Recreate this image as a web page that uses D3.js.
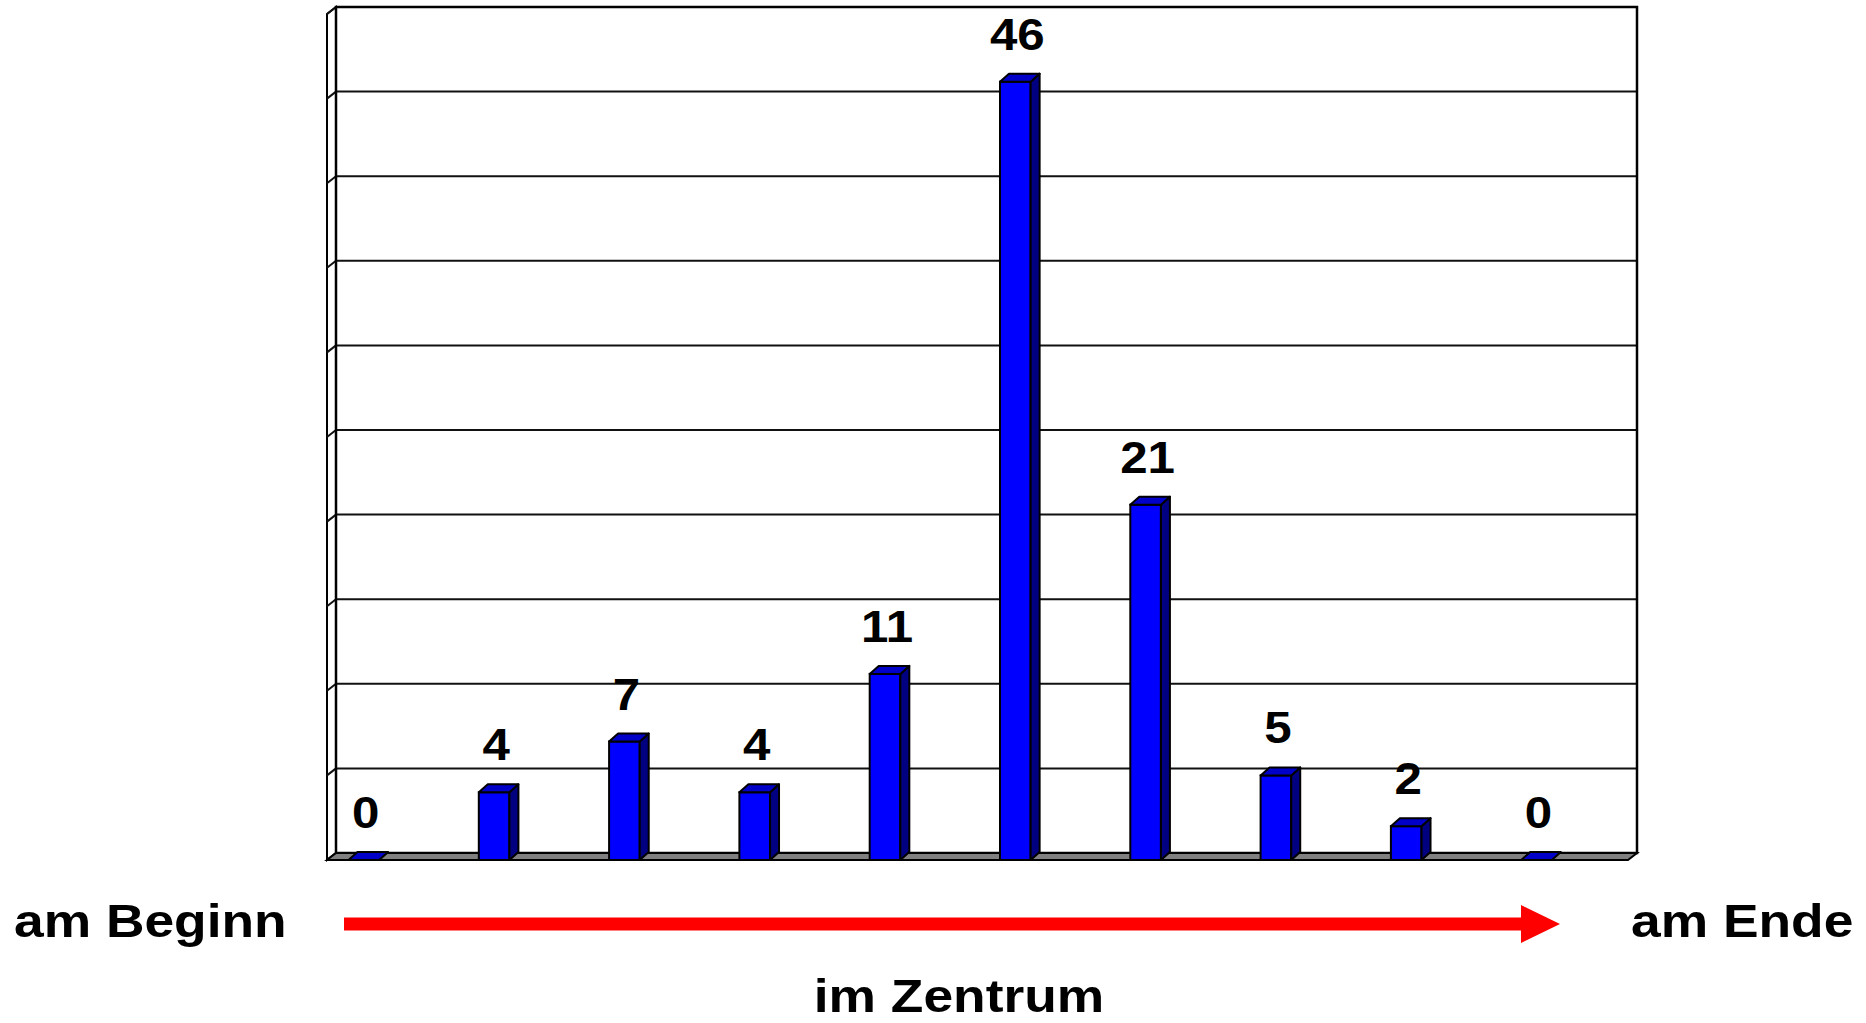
<!doctype html>
<html>
  <head>
    <meta charset="utf-8">
    <script src="https://d3js.org/d3.v7.min.js"></script>
    <style>
      body { margin: 0; background: #fff; }
      text { font-family: "Liberation Sans", Arial, sans-serif; font-weight: bold; fill: #000; }
    </style>
  </head>
  <body>
    <script>

// chart data
var steps = ["1", "2", "3", "4", "5", "6", "7", "8", "9", "10"];
var counts = [0, 4, 7, 4, 11, 46, 21, 5, 2, 0];
var yTicks = [0, 5, 10, 15, 20, 25, 30, 35, 40, 45, 50];
var axisTexts = ["am Beginn", "im Zentrum", "am Ende"];

var W = 1866, H = 1023;
var depthX = 9, depthY = 7;   // 3d offset of the walls
var stretch = 1.12;           // text in the original is a bit wide

var svg = d3.select("body")
  .append("svg")
    .attr("width", W)
    .attr("height", H);

// back wall plane
var y = d3.scaleLinear().domain([0, 50]).range([853, 7]);
var x = d3.scaleBand().domain(steps).range([327, 1630]);
var backLeft = 336, backRight = 1637;

// left side wall
svg.append("path")
  .attr("d", d3.line()([[backLeft - depthX, y(50) + depthY], [backLeft, y(50)], [backLeft, y(0)], [backLeft - depthX, y(0) + depthY]]) + "Z")
  .attr("fill", "#fff")
  .attr("stroke", "#000")
  .attr("stroke-width", 2);

// back wall
svg.append("rect")
  .attr("x", backLeft).attr("y", y(50))
  .attr("width", backRight - backLeft).attr("height", y(0) - y(50))
  .attr("fill", "#fff");

// gridlines, also running across the side wall
var grid = svg.append("g");
grid.selectAll("line.g")
  .data(yTicks)
  .enter().append("line")
    .attr("x1", backLeft).attr("x2", backRight)
    .attr("y1", function(d) { return y(d); })
    .attr("y2", function(d) { return y(d); })
    .attr("stroke", "#111")
    .attr("stroke-width", 2);
grid.selectAll("line.s")
  .data(yTicks)
  .enter().append("line")
    .attr("x1", backLeft).attr("x2", backLeft - depthX)
    .attr("y1", function(d) { return y(d); })
    .attr("y2", function(d) { return y(d) + depthY; })
    .attr("stroke", "#111")
    .attr("stroke-width", 2);

svg.append("rect")
  .attr("x", backLeft).attr("y", y(50))
  .attr("width", backRight - backLeft).attr("height", y(0) - y(50))
  .attr("fill", "none")
  .attr("stroke", "#000")
  .attr("stroke-width", 2.5);

// floor
svg.append("path")
  .attr("d", d3.line()([[backLeft, y(0)], [backRight, y(0)], [backRight - depthX, y(0) + depthY], [backLeft - depthX, y(0) + depthY]]) + "Z")
  .attr("fill", "#808080")
  .attr("stroke", "#000")
  .attr("stroke-width", 2);

// bars
var bw = x.bandwidth() * 0.235;
var bx = function(d, i) { return x(steps[i]) + x.bandwidth() * 0.165; };
var yFront = function(v) { return y(v) + depthY; };
var bdx = 9, bdy = 8;

var bars = svg.selectAll("g.bar")
  .data(counts)
  .enter().append("g")
    .attr("class", "bar");

bars.each(function(d, i) {
  var g = d3.select(this);
  var x0 = bx(d, i), x1 = x0 + bw;
  var yb = yFront(0), yt = yFront(d);
  if (d > 0) {
    g.append("rect")
      .attr("x", x0).attr("y", yt)
      .attr("width", bw).attr("height", yb - yt)
      .attr("fill", "#0000ff")
      .attr("stroke", "#000").attr("stroke-width", 2);
    g.append("path")
      .attr("d", d3.line()([[x1, yt], [x1 + bdx, yt - bdy], [x1 + bdx, yb - bdy], [x1, yb]]) + "Z")
      .attr("fill", "#000080")
      .attr("stroke", "#000").attr("stroke-width", 2)
      .attr("stroke-linejoin", "round");
  }
  g.append("path")
    .attr("d", d3.line()([[x0, yt], [x0 + bdx, yt - bdy], [x1 + bdx, yt - bdy], [x1, yt]]) + "Z")
    .attr("fill", "#0000c8")
    .attr("stroke", "#000").attr("stroke-width", 2)
    .attr("stroke-linejoin", "round");
});

// value labels
svg.selectAll("text.val")
  .data(counts)
  .enter().append("text")
    .attr("class", "val")
    .attr("text-anchor", "middle")
    .attr("font-size", 44)
    .attr("transform", function(d, i) {
      return "translate(" + (bx(d, i) + bw / 2 + 2) + "," + (yFront(d) - bdy - 24) + ") scale(" + stretch + ",1)";
    })
    .text(function(d) { return d; });

// red arrow
var arrowY = 924;
svg.append("path")
  .attr("d", d3.line()([[344, arrowY - 6.5], [1521, arrowY - 6.5], [1521, arrowY - 19], [1560, arrowY],
                        [1521, arrowY + 19], [1521, arrowY + 6.5], [344, arrowY + 6.5]]) + "Z")
  .attr("fill", "#ff0000");

// axis words
var axisPos = [[14, 937, "start"], [959, 1012, "middle"], [1631, 937, "start"]];
svg.selectAll("text.ax")
  .data(axisTexts)
  .enter().append("text")
    .attr("class", "ax")
    .attr("font-size", 46)
    .attr("text-anchor", function(d, i) { return axisPos[i][2]; })
    .attr("transform", function(d, i) {
      return "translate(" + axisPos[i][0] + "," + axisPos[i][1] + ") scale(1.16,1)";
    })
    .text(function(d) { return d; });

    </script>
  </body>
</html>
